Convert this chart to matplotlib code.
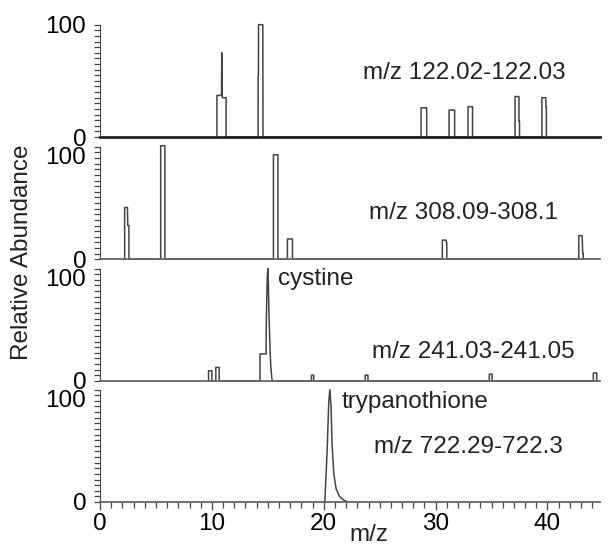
import matplotlib
matplotlib.use('Agg')
import matplotlib.pyplot as plt
from matplotlib.ticker import MultipleLocator

plt.rcParams['font.family'] = ['Liberation Sans', 'DejaVu Sans']

# retention time (x) / relative abundance (y) traces
cys_x = [10.45, 10.45, 10.86, 10.88, 10.90, 10.95, 11.27, 11.27,
         14.13, 14.13, 14.16, 14.17, 14.55, 14.57,
         28.7, 28.7, 29.2, 29.2,
         31.2, 31.2, 31.7, 31.7,
         32.9, 32.9, 33.3, 33.3,
         37.1, 37.1, 37.45, 37.45, 37.5, 37.5,
         39.5, 39.5, 39.85, 39.85, 39.9, 39.9]
cys_y = [0, 37, 37, 75, 37, 35, 35, 0,
         0, 54, 55, 100, 100, 0,
         0, 26, 26, 0,
         0, 24, 24, 0,
         0, 27, 27, 0,
         0, 36, 36, 14, 14, 0,
         0, 35, 35, 27, 27, 0]

gsh_x = [2.2, 2.2, 2.45, 2.48, 2.58, 2.58,
         5.42, 5.42, 5.8, 5.8,
         15.5, 15.5, 15.9, 15.9,
         16.75, 16.75, 17.2, 17.2,
         30.6, 30.6, 30.95, 30.95, 31.0, 31.0,
         42.8, 42.8, 43.1, 43.15, 43.2, 43.2]
gsh_y = [0, 46, 46, 30, 30, 0,
         0, 101, 101, 0,
         0, 93, 93, 0,
         0, 18, 18, 0,
         0, 17, 17, 15, 15, 0,
         0, 21, 21, 5, 5, 0]

cyss_x = [9.7, 9.7, 10.0, 10.0,
          10.35, 10.35, 10.65, 10.65,
          14.3, 14.3, 14.85, 14.85, 14.9, 14.95, 15.0, 15.05, 15.1, 15.18, 15.25, 15.35, 15.4,
          18.9, 18.9, 19.1, 19.1,
          23.7, 23.7, 23.95, 23.95,
          34.8, 34.8, 35.05, 35.05,
          44.1, 44.1, 44.4, 44.4]
cyss_y = [0, 9, 9, 0,
          0, 12, 12, 0,
          0, 24, 24, 45, 70, 92, 100, 85, 60, 35, 15, 3, 0,
          0, 5, 5, 0,
          0, 5, 5, 0,
          0, 6, 6, 0,
          0, 7, 7, 0]

tsh_x = [20.1, 20.15, 20.3, 20.45, 20.55, 20.65, 20.75, 20.9, 21.1, 21.4, 21.8, 22.2]
tsh_y = [0, 12, 45, 90, 100, 85, 50, 25, 12, 5, 1.5, 0]

traces = [(cys_x, cys_y), (gsh_x, gsh_y), (cyss_x, cyss_y), (tsh_x, tsh_y)]
mz_labels = ['m/z 122.02-122.03', 'm/z 308.09-308.1', 'm/z 241.03-241.05', 'm/z 722.29-722.3']
label_x = [32.6, 32.5, 33.4, 32.9]
label_y = [57, 41, 26, 49]
peak_names = [None, None, 'cystine', 'trypanothione']
name_x = [None, None, 15.9, 21.6]
name_y = [None, None, 91, 89]

fs = 17.5
line_col = '#444444'
bottoms = [0.750, 0.527, 0.305, 0.084]

fig = plt.figure(figsize=(6.1, 5.48), dpi=100)
for i, (xs, ys) in enumerate(traces):
    ax = fig.add_axes([0.164, bottoms[i], 0.8197, 0.205])
    ax.plot(xs, ys, color=line_col, linewidth=1.1, clip_on=False)
    ax.set_xlim(0, 44.7)
    ax.set_ylim(0, 100)
    for s in ['top', 'right']:
        ax.spines[s].set_visible(False)
    ax.spines['left'].set_color(line_col)
    ax.spines['bottom'].set_color('#222222' if i == 0 else '#666666')
    ax.spines['bottom'].set_linewidth(2.0 if i == 0 else 1.3)
    ax.set_yticks([0, 100])
    ax.yaxis.set_minor_locator(MultipleLocator(5))
    ax.tick_params(axis='y', which='both', direction='out', length=4, width=0.9,
                   color=line_col, labelsize=fs, pad=6)
    ylabels = ax.get_yticklabels()
    if i > 0:
        ylabels[1].set_va('top')
    if i < 3:
        ylabels[0].set_va('center_baseline')
    ax.text(label_x[i], label_y[i], mz_labels[i], fontsize=fs, ha='center', va='center', color='#222222')
    if peak_names[i]:
        ax.text(name_x[i], name_y[i], peak_names[i], fontsize=fs, ha='left', va='center', color='#222222')
    if i < 3:
        ax.set_xticks([])
    else:
        ax.xaxis.set_major_locator(MultipleLocator(10))
        ax.xaxis.set_minor_locator(MultipleLocator(1))
        ax.tick_params(axis='x', which='major', direction='out', length=6, width=0.9,
                       color=line_col, labelsize=fs, pad=2)
        ax.tick_params(axis='x', which='minor', direction='out', length=4, width=0.9, color=line_col)

fig.text(0.036, 0.54, 'Relative Abundance', rotation=90, ha='center', va='center', fontsize=fs, color='#222222')
fig.text(0.605, 0.024, 'm/z', ha='center', va='center', fontsize=fs, color='#222222')

fig.savefig('out.png', dpi=100)
